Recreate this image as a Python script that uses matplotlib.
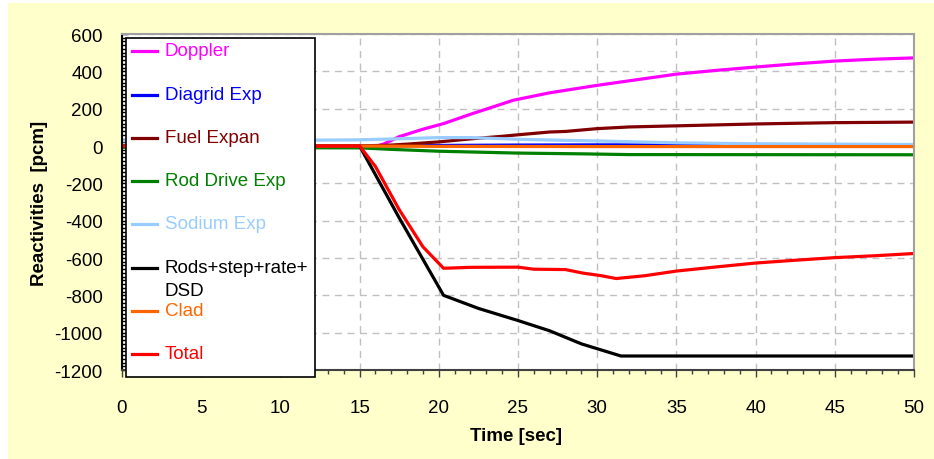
import matplotlib
matplotlib.use("Agg")
import matplotlib.pyplot as plt
from matplotlib.lines import Line2D
from matplotlib.patches import Rectangle
from matplotlib.ticker import MultipleLocator

plt.rcParams['font.family'] = ['Liberation Sans', 'DejaVu Sans']

# ---------------- data ----------------
series_names = ["Doppler", "Diagrid Exp", "Fuel Expan", "Rod Drive Exp",
                "Sodium Exp", "Rods+step+rate+\nDSD", "Clad", "Total"]
series_colors = ["#FF00FF", "#0000FF", "#800000", "#008000",
                 "#99CCFF", "#000000", "#FF6600", "#FF0000"]

t_doppler = [0, 14, 15, 15.8, 16.5, 17.5, 19, 20.3, 22, 24.7, 27, 30, 32.5, 35, 37.5, 40, 42.5, 45, 47.5, 50]
doppler   = [0, -3, -5, -8, 10, 50, 90, 120, 170, 245, 285, 325, 355, 385, 405, 423, 440, 455, 465, 472]

t_diagrid = [0, 15, 20, 25, 30, 40, 50]
diagrid   = [0, 0, 3, 5, 6, 6, 6]

t_fuel = [0, 15, 17, 18, 20, 22, 24, 25, 27, 28, 30, 32, 34, 36, 38, 40, 42, 45, 50]
fuel   = [0, 0, 5, 10, 22, 38, 52, 60, 75, 78, 93, 102, 106, 110, 114, 118, 121, 125, 128]

t_rod_drive = [0, 15, 17, 20, 22, 25, 29, 32, 50]
rod_drive   = [-8, -10, -18, -28, -32, -38, -42, -46, -47]

t_sodium = [0, 10, 15, 18, 20, 22, 25, 28, 30, 35, 40, 45, 50]
sodium   = [28, 30, 33, 40, 45, 45, 36, 30, 27, 17, 12, 10, 8]

t_rods = [0, 15, 17.5, 20.3, 22.5, 25, 27, 29, 31.5, 50]
rods   = [0, 0, -385, -800, -870, -935, -990, -1060, -1125, -1125]

t_clad = [0, 15, 20, 30, 50]
clad   = [0, 0, -2, -3, -3]

t_total = [0, 15, 16, 17.5, 19, 20.3, 22, 25, 26, 28, 29.1, 30.2, 31.2, 33, 35, 37.5, 40, 42.5, 45, 47.5, 50]
total   = [0, 0, -110, -341, -540, -655, -650, -649, -660, -662, -681, -694, -710, -695, -670, -648, -627, -612, -598, -588, -576]

x_ticks = [0, 5, 10, 15, 20, 25, 30, 35, 40, 45, 50]
y_ticks = [600, 400, 200, 0, -200, -400, -600, -800, -1000, -1200]

times = [t_doppler, t_diagrid, t_fuel, t_rod_drive, t_sodium, t_rods, t_clad, t_total]
values = [doppler, diagrid, fuel, rod_drive, sodium, rods, clad, total]

# ---------------- figure ----------------
W, H = 934, 460
FS = 13.5
fig = plt.figure(figsize=(W / 100, H / 100), dpi=100, facecolor="white")
bg = Rectangle((8 / W, 0), 1 - 8 / W, 1 - 4 / H, transform=fig.transFigure,
               facecolor="#FFFFCC", edgecolor="none", zorder=-10)
fig.patches.append(bg)

def fx(px):
    return px / W

def fy(py):
    return 1 - py / H

ax = fig.add_axes([fx(122), fy(371), fx(914) - fx(122), fy(35) - fy(371)])
ax.set_facecolor("white")

for tt, vv, c in zip(times, values, series_colors):
    ax.plot(tt, vv, color=c, lw=2.3, solid_joinstyle="round", solid_capstyle="butt")

ax.set_xlim(0, 50)
ax.set_ylim(-1200, 600)
ax.set_xticks(x_ticks)
ax.set_yticks(y_ticks)
ax.set_xticklabels([str(v) for v in x_ticks])
ax.set_yticklabels([str(v) for v in y_ticks])
ax.xaxis.set_minor_locator(MultipleLocator(1))
ax.yaxis.set_minor_locator(MultipleLocator(20))
ax.tick_params(axis="x", which="major", direction="out", length=5, width=1, color="#404040",
               labelsize=FS, pad=16)
ax.tick_params(axis="x", which="minor", direction="out", length=3, width=1, color="#404040")
ax.tick_params(axis="y", which="major", direction="in", length=4, width=1, color="black",
               labelsize=FS, pad=14)
ax.tick_params(axis="y", which="minor", direction="in", length=4, width=1, color="black")

ax.grid(True, which="major", color="#C0C0C0", linestyle=(0, (5, 4)), linewidth=1)
ax.set_axisbelow(True)

ax.spines["left"].set_color("black")
ax.spines["bottom"].set_color("#404040")
ax.spines["top"].set_color("#A0A0A0")
ax.spines["right"].set_color("#A0A0A0")
for s in ax.spines.values():
    s.set_linewidth(1.5)

fig.text(fx(516), fy(437), "Time [sec]", ha="center", va="center",
         fontsize=FS, fontweight="bold")
fig.text(fx(40), fy(203), "Reactivities  [pcm]", ha="center", va="center",
         rotation=90, fontsize=FS, fontweight="bold")

# ---------------- legend (manual, Excel-like) ----------------
leg_box = Rectangle((fx(126), fy(378)), fx(315) - fx(126), fy(39) - fy(378),
                    transform=fig.transFigure, facecolor="white", edgecolor="black",
                    linewidth=1.2, zorder=20)
fig.patches.append(leg_box)
entry_y = [52, 96, 139, 182, 225, 269, 312, 355]
for name, c, yy in zip(series_names, series_colors, entry_y):
    fig.lines.append(Line2D([fx(132), fx(157)], [fy(yy), fy(yy)], color=c, lw=2.3,
                            transform=fig.transFigure, zorder=21))
    lines = name.split("\n")
    fig.text(fx(165), fy(yy), lines[0], color=c, fontsize=FS, ha="left", va="center", zorder=22)
    if len(lines) > 1:
        fig.text(fx(165), fy(yy + 22), lines[1], color=c, fontsize=FS, ha="left",
                 va="center", zorder=22)

fig.savefig("out.png", dpi=100, facecolor=fig.get_facecolor())
